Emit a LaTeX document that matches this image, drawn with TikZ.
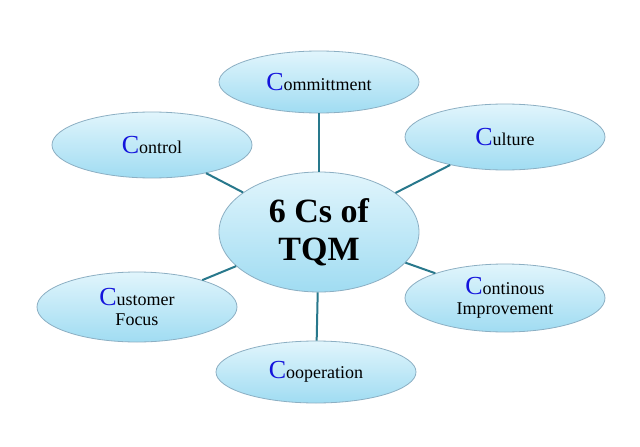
\documentclass[tikz,border=0pt]{standalone}
\usepackage{fontspec}
\setmainfont{Liberation Serif}
\usetikzlibrary{shapes.geometric}
\definecolor{edgec}{RGB}{40,120,140}
\definecolor{topc}{RGB}{225,245,252}
\definecolor{botc}{RGB}{160,220,242}
\definecolor{rimc}{RGB}{140,175,195}
\definecolor{cblue}{RGB}{20,20,220}
\tikzset{
  bub/.style={ellipse, draw=rimc, line width=0.8pt, top color=topc, bottom color=botc,
    minimum width=200pt, minimum height=62pt, inner sep=0pt, align=center,
    font=\fontsize{18}{19}\selectfont},
  link/.style={draw=edgec, line width=2pt}
}
\newcommand{\BC}{{\color{cblue}\fontsize{26}{26}\selectfont C}}
\begin{document}
\begin{tikzpicture}[x=1pt,y=-1pt]
\useasboundingbox (0,0) rectangle (640,447);
\fill[white] (0,0) rectangle (640,447);
\node[bub] (cm) at (319,82) {\BC ommittment};
\node[bub, minimum height=66pt] (ct) at (152,145) {\BC ontrol};
\node[bub, minimum height=66pt] (cu) at (505,137) {\BC ulture};
\node[bub, minimum height=70pt, font=\fontsize{18}{20}\selectfont] (cf) at (137,307) {\BC ustomer\\Focus};
\node[bub, minimum height=68pt, font=\fontsize{18}{20}\selectfont] (ci) at (505,298) {\BC ontinous\\Improvement};
\node[bub] (co) at (316,372) {\BC ooperation};
\node[bub, minimum height=120pt, font=\bfseries\fontsize{34}{38}\selectfont] (c) at (319,232) {6 Cs of\\TQM};
\begin{scope}[on background layer/.style={}]
\end{scope}
\draw[link] (c) -- (cm);
\draw[link] (c) -- (ct);
\draw[link] (c) -- (cu);
\draw[link] (c) -- (cf);
\draw[link] (c) -- (ci);
\draw[link] (c) -- (co);
\end{tikzpicture}
\end{document}
